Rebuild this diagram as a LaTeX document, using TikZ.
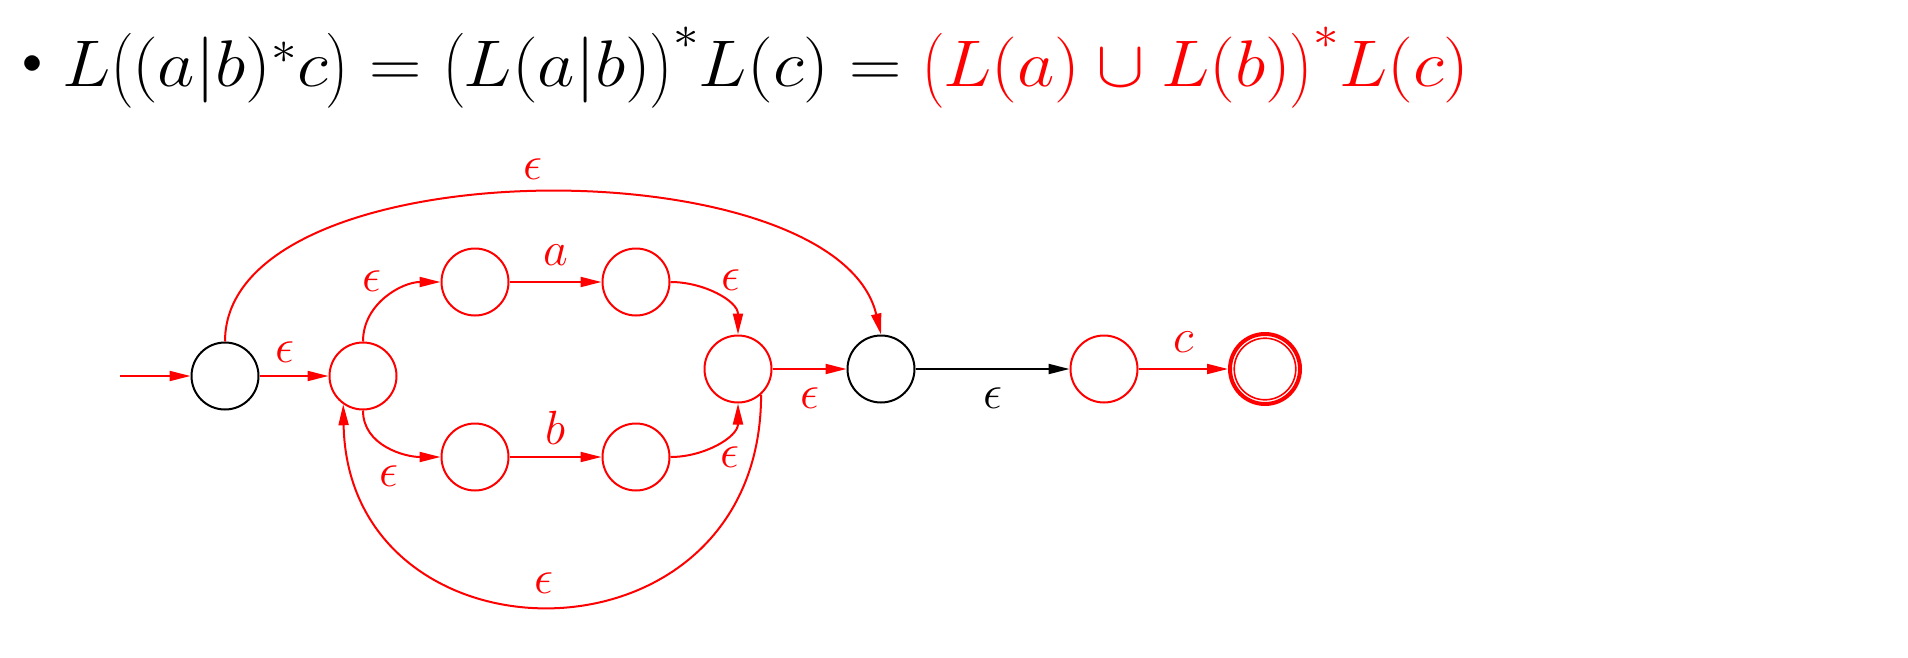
\RequirePackage{fix-cm}
\documentclass[tikz,border=0pt]{standalone}
\usepackage{amsmath}
\usetikzlibrary{arrows.meta}
\begin{document}
\begin{tikzpicture}[x=1pt,y=-1pt,
  >={Triangle[length=21pt,width=10pt]},
  rstate/.style={circle,draw=red,line width=2pt,minimum size=67pt,inner sep=0pt},
  kstate/.style={circle,draw=black,line width=2pt,minimum size=67pt,inner sep=0pt},
  redarr/.style={->,draw=red,line width=2pt},
  blkarr/.style={->,draw=black,line width=2pt},
  lab/.style={font=\fontsize{48}{50}\selectfont,inner sep=0pt,text=red},
  klab/.style={font=\fontsize{48}{50}\selectfont,inner sep=0pt,text=black}]
\useasboundingbox[fill=white] (0,0) rectangle (1908,658);
% title
\node[font=\fontsize{40}{44}\selectfont,inner sep=0pt] (bul) at (33,65) {$\bullet$};
\node[anchor=base west,inner sep=0pt,font=\fontsize{66}{72}\selectfont] (title) at (62,87)
  {\scalebox{1.1}[1]{$L\bigl((a|b)^*c\bigr) = \bigl(L(a|b)\bigr)^*L(c) = {\color{red}\bigl(L(a)\cup L(b)\bigr)^*L(c)}$}};
% states
\node[kstate] (s) at (225,376) {};
\node[rstate] (q1) at (363,376) {};
\node[rstate] (a1) at (475,282) {};
\node[rstate] (a2) at (636,282) {};
\node[rstate] (b1) at (475,457) {};
\node[rstate] (b2) at (636,457) {};
\node[rstate] (j) at (738,369) {};
\node[kstate] (m) at (881,369) {};
\node[rstate] (c1) at (1104,369) {};
\node[circle,draw=red,line width=4pt,minimum size=70pt,inner sep=0pt] (f) at (1265,369) {};
\draw[red,line width=1.6pt] (f.center) circle (30.8);
\coordinate (init) at (120,376);
% edges
\draw[redarr] (init) -- (s);
\draw[redarr] (s) -- node[lab,above=13pt,xshift=-9pt] {$\epsilon$} (q1);
\draw[redarr] (q1.north) to[out=90,in=180] node[lab,pos=0.5,above left=5pt] {$\epsilon$} (a1.west);
\draw[redarr] (a1) -- node[lab,above=16pt] {$a$} (a2);
\draw[redarr] (a2.east) to[out=0,in=90] node[lab,pos=0.5,above right=4pt] {$\epsilon$} (j.north);
\draw[redarr] (q1.south) to[out=-90,in=180] node[lab,pos=0.5,below=18pt] {$\epsilon$} (b1.west);
\draw[redarr] (b1) -- node[lab,above=12pt] {$b$} (b2);
\draw[redarr] (b2.east) to[out=0,in=-90] node[lab,pos=0.5,below right=3pt] {$\epsilon$} (j.south);
\draw[redarr] (j) -- node[lab,below=18pt] {$\epsilon$} (m);
\draw[blkarr] (m) -- node[klab,below=18pt] {$\epsilon$} (c1);
\draw[redarr] (c1) -- node[lab,above=16pt] {$c$} (f);
\draw[redarr] (s.north) .. controls +(0,-196) and +(-45,-190) .. (m.north)
  node[lab,pos=0.5,above=13pt,xshift=-3pt] {$\epsilon$};
\draw[redarr] (j.-48) .. controls +(0,281) and +(5,269) .. (q1.-125)
  node[lab,pos=0.5,above=11pt,xshift=-10pt] {$\epsilon$};
\end{tikzpicture}
\end{document}
